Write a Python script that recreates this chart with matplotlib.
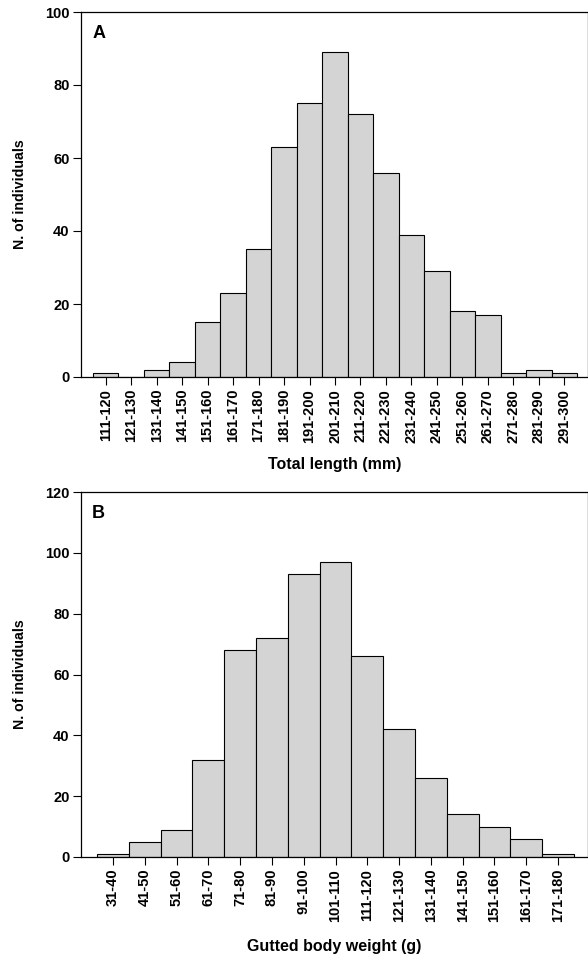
import numpy as np
import matplotlib
matplotlib.use("Agg")
import matplotlib.pyplot as plt

# Panel A: total length classes (mm)
length_classes = ["111-120", "121-130", "131-140", "141-150", "151-160", "161-170",
                  "171-180", "181-190", "191-200", "201-210", "211-220", "221-230",
                  "231-240", "241-250", "251-260", "261-270", "271-280", "281-290",
                  "291-300"]
length_counts = [1, 0, 2, 4, 15, 23, 35, 63, 75, 89, 72, 56, 39, 29, 18, 17, 1, 2, 1]

# Panel B: gutted body weight classes (g)
weight_classes = ["31-40", "41-50", "51-60", "61-70", "71-80", "81-90", "91-100",
                  "101-110", "111-120", "121-130", "131-140", "141-150", "151-160",
                  "161-170", "171-180"]
weight_counts = [1, 5, 9, 32, 68, 72, 93, 97, 66, 42, 26, 14, 10, 6, 1]

plt.rcParams['font.family'] = ['Liberation Sans', 'DejaVu Sans']

W, H = 588, 957
fig = plt.figure(figsize=(W / 100, H / 100), dpi=100)

BAR_COLOR = "#d4d4d4"


def panel(top_px, classes, counts, ymax, letter, xlabel, pad_left, pad_right):
    left = 81.5 / W
    width = (587 - 81.5) / W
    height = 365 / H
    bottom = 1 - (top_px + 365) / H
    ax = fig.add_axes([left, bottom, width, height])

    x = np.arange(len(classes))
    ax.bar(x, counts, width=1.0, color=BAR_COLOR, edgecolor="black", linewidth=0.8)

    ax.set_xlim(-0.5 - pad_left, len(classes) - 0.5 + pad_right)
    ax.set_ylim(0, ymax)
    ax.set_yticks(np.arange(0, ymax + 1, 20))
    ax.set_xticks(x)
    ax.set_xticklabels(classes, rotation=90)

    ax.tick_params(direction="out", length=5.5, width=0.8, labelsize=10.5, pad=3)
    for lab in ax.get_xticklabels() + ax.get_yticklabels():
        lab.set_fontweight("bold")

    for side in ["left", "bottom", "top"]:
        ax.spines[side].set_linewidth(0.9)
    ax.spines["right"].set_color("#d8d8d8")
    ax.spines["right"].set_linewidth(0.6)

    ax.set_ylabel("N. of individuals", fontsize=10.2, fontweight="bold")
    ax.yaxis.set_label_coords(-0.108, 0.5)
    ax.set_xlabel(xlabel, fontsize=11.5, fontweight="bold")
    ax.xaxis.label.set_va("center")

    ax.text(0.034, 0.941, letter, transform=ax.transAxes, fontsize=13,
            fontweight="bold", ha="center", va="center")
    return ax


axA = panel(12, length_classes, length_counts, 100, "A", "Total length (mm)", 0.45, 0.39)
axA.xaxis.set_label_coords(0.5, (377 - 465) / 365)

axB = panel(492, weight_classes, weight_counts, 120, "B", "Gutted body weight (g)", 0.49, 0.41)
axB.xaxis.set_label_coords(0.5, (857 - 946) / 365)

fig.savefig("out.png", dpi=100)
